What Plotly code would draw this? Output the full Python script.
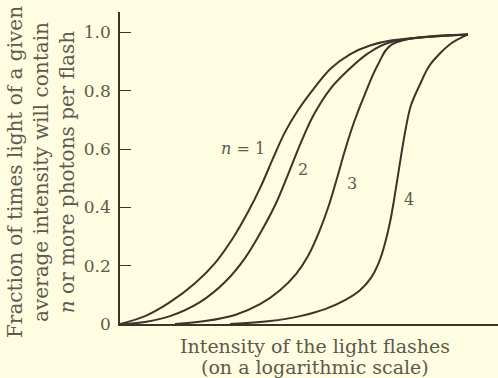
import plotly.graph_objects as go

# Curve data (x: log intensity, arbitrary units; y: fraction)
x_n1 = [0.000, 0.661, 1.323, 1.984, 2.513, 2.989, 3.386, 3.730, 4.048, 4.365, 4.709, 5.132, 5.582, 6.085, 6.614, 7.196, 9.206]
y_n1 = [0.000, 0.027, 0.075, 0.140, 0.209, 0.295, 0.384, 0.473, 0.568, 0.658, 0.733, 0.808, 0.877, 0.925, 0.955, 0.973, 0.993]

x_n2 = [0.132, 0.661, 1.323, 2.116, 2.778, 3.307, 3.757, 4.127, 4.471, 4.788, 5.132, 5.556, 6.032, 6.561, 7.143, 9.206]
y_n2 = [0.000, 0.007, 0.027, 0.075, 0.144, 0.226, 0.322, 0.414, 0.521, 0.623, 0.719, 0.805, 0.870, 0.928, 0.966, 0.993]

x_n3 = [1.455, 2.249, 3.042, 3.704, 4.233, 4.656, 4.974, 5.265, 5.529, 5.741, 5.952, 6.190, 6.455, 6.825, 7.196, 9.206]
y_n3 = [0.000, 0.010, 0.031, 0.068, 0.116, 0.171, 0.233, 0.315, 0.408, 0.500, 0.596, 0.692, 0.781, 0.890, 0.959, 0.993]

x_n4 = [2.910, 3.968, 4.762, 5.423, 5.952, 6.349, 6.640, 6.852, 7.011, 7.143, 7.249, 7.354, 7.460, 7.566, 7.698, 7.937, 8.175, 8.466, 8.757, 9.206]
y_n4 = [0.000, 0.010, 0.027, 0.051, 0.082, 0.116, 0.158, 0.212, 0.277, 0.349, 0.425, 0.510, 0.596, 0.675, 0.750, 0.822, 0.884, 0.928, 0.962, 0.993]

curve_labels = ["<i>n</i> = 1", "2", "3", "4"]
label_x = [3.25, 4.84, 6.14, 7.65]
label_y = [0.603, 0.531, 0.483, 0.428]

y_ticks = [0, 0.2, 0.4, 0.6, 0.8, 1.0]
y_ticktext = ["0", "0.2", "0.4", "0.6", "0.8", "1.0"]

y_title_lines = "Fraction of times light of a given<br>average intensity will contain<br><i>n</i> or more photons per flash"
x_title_lines = ["Intensity of the light flashes", "(on a logarithmic scale)"]

BG = "#fefde2"
INK = "#3b3428"
TXT = "#5d594d"
FONT = "DejaVu Serif"

fig = go.Figure()
for xs, ys in [(x_n1, y_n1), (x_n2, y_n2), (x_n3, y_n3), (x_n4, y_n4)]:
    fig.add_trace(go.Scatter(x=xs, y=ys, mode="lines",
                             line=dict(color=INK, width=2, shape="spline", smoothing=1.0),
                             hoverinfo="skip"))

for t, lx, ly in zip(curve_labels, label_x, label_y):
    fig.add_annotation(x=lx, y=ly, xref="x", yref="y", text=t, showarrow=False,
                       font=dict(family=FONT, size=16, color=TXT),
                       xanchor="center", yanchor="middle")

fig.add_annotation(
    text=y_title_lines,
    xref="paper", yref="paper", x=-0.209, y=0.487, textangle=-90, showarrow=False,
    font=dict(family=FONT, size=20, color=TXT), xanchor="center", yanchor="middle", align="center")

for t, yy in zip(x_title_lines, [-0.0705, -0.138]):
    fig.add_annotation(
        text=t, xref="paper", yref="paper", x=0.515, y=yy, showarrow=False,
        font=dict(family=FONT, size=19, color=TXT), xanchor="center", yanchor="middle")

fig.update_layout(
    width=498, height=378,
    margin=dict(l=120, r=0, t=12, b=54, pad=0),
    paper_bgcolor=BG, plot_bgcolor=BG,
    showlegend=False,
    xaxis=dict(range=[0, 10], showline=True, linecolor=INK, linewidth=1.5,
               showticklabels=False, ticks="", showgrid=False, zeroline=False),
    yaxis=dict(range=[0, 1.07], showline=True, linecolor=INK, linewidth=1.5,
               tickvals=y_ticks, ticktext=y_ticktext, ticks="inside", ticklen=11,
               tickcolor=INK, tickwidth=1, showgrid=False, zeroline=False,
               tickfont=dict(family=FONT, size=17, color=TXT), ticklabelstandoff=4),
)

fig.write_html("out.html")
